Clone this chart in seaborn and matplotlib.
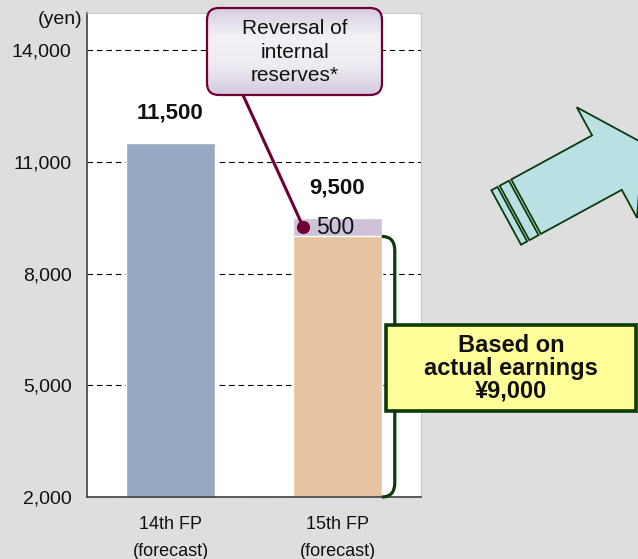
import matplotlib
matplotlib.use("Agg")
import matplotlib.pyplot as plt
import seaborn as sns
import numpy as np
import pandas as pd
from matplotlib.patches import FancyBboxPatch, Rectangle, Polygon, PathPatch
from matplotlib.path import Path
from matplotlib.colors import LinearSegmentedColormap

# Dividend per unit (yen)
periods = ["14th FP", "15th FP"]
period_notes = ["(forecast)", "(forecast)"]
base_dividend = [11500, 9000]       # based on actual earnings
reserve_reversal = [0, 500]         # reversal of internal reserves
total_dividend = [b + r for b, r in zip(base_dividend, reserve_reversal)]
y_ticks = [2000, 5000, 8000, 11000, 14000]

BLUE = "#97a9c2"
ORANGE = "#e6c4a2"
PURPLE = "#cdc2d8"
MAROON = "#6e0036"
GREEN = "#0b3a0b"
YELLOW = "#ffff99"
CYAN = "#b9e0e3"
BG = "#dedede"

sns.set_theme(style="white")
plt.rcParams["font.family"] = ["Liberation Sans", "DejaVu Sans"]

W, H = 638, 559
fig = plt.figure(figsize=(W / 100, H / 100), dpi=100, facecolor=BG)
ax = fig.add_axes([87 / W, 1 - 497 / H, (421 - 87) / W, (497 - 13) / H])
ax.set_facecolor("white")

df = pd.DataFrame({
    "period": periods,
    "total": total_dividend,
    "base": base_dividend,
})

# full height (incl. reserve reversal), then the earnings-based part on top
sns.barplot(data=df, x="period", y="total", hue="period",
            palette=[BLUE, PURPLE], width=0.53, saturation=1,
            legend=False, errorbar=None, ax=ax, zorder=2)
sns.barplot(data=df, x="period", y="base", hue="period",
            palette=[BLUE, ORANGE], width=0.53, saturation=1,
            legend=False, errorbar=None, ax=ax, zorder=2)

ax.set_xlim(-0.5, 1.5)
ax.set_ylim(2000, 15000)
ax.set_yticks(y_ticks)
ax.set_yticklabels([f"{v:,}" for v in y_ticks], fontsize=14, color="#111111")
ax.set_xticks(range(len(periods)))
ax.set_xticklabels([f"{p}\n{n}" for p, n in zip(periods, period_notes)],
                   fontsize=13, color="#111111", linespacing=1.75)
ax.set_xlabel("")
ax.set_ylabel("")
ax.tick_params(axis="y", length=0, pad=11)
ax.tick_params(axis="x", length=0, pad=14)
ax.set_xticks([-0.5, 0.5, 1.5], minor=True)
ax.tick_params(axis="x", which="minor", direction="in", length=4,
               color="#404040", width=1)

ax.yaxis.grid(True, color="black", linestyle=(0, (5, 3.5)), linewidth=0.8)
ax.set_axisbelow(True)
for side in ("left", "bottom"):
    ax.spines[side].set_color("#404040")
    ax.spines[side].set_linewidth(1.2)
for side in ("top", "right"):
    ax.spines[side].set_color("#c8c8c8")
    ax.spines[side].set_linewidth(0.8)

# total labels above bars
for i, v in enumerate(total_dividend):
    ax.annotate(f"{v:,}", (i, v), xytext=(0, 21.5), textcoords="offset points",
                ha="center", va="center", fontsize=16, fontweight="bold",
                color="#111111")

# reserve reversal segment label
rev_mid = base_dividend[1] + reserve_reversal[1] / 2
ax.text(1 - 0.13, rev_mid, f"{reserve_reversal[1]:,}", ha="left",
        va="center", fontsize=16.5, color="#111111", zorder=5)

# bracket along the earnings-based part of the 15th FP bar
bx0 = 1 + 0.265
bx1 = bx0 + 0.078
ry = 380
verts = [(bx0, base_dividend[1]), (bx1, base_dividend[1]), (bx1, base_dividend[1] - ry),
         (bx1, 2000 + ry), (bx1, 2000), (bx0, 2000)]
codes = [Path.MOVETO, Path.CURVE3, Path.CURVE3, Path.LINETO, Path.CURVE3, Path.CURVE3]
ax.add_patch(PathPatch(Path(verts, codes), fill=False, edgecolor=GREEN,
                       linewidth=2.3, clip_on=False, zorder=6))

fig.text(82 / W, 1 - 20 / H, "(yen)", ha="right", va="center",
         fontsize=14, color="#111111")

# overlay in pixel coordinates for callouts and the arrow
ov = fig.add_axes([0, 0, 1, 1])
ov.set_zorder(5)
ov.patch.set_visible(False)
ov.axis("off")

# connector from callout box to the reserve segment
dot_disp = ax.transData.transform((1 - 0.265 + 0.06, rev_mid))
dot = (dot_disp[0], H - dot_disp[1])
ov.plot([243, dot[0]], [95, dot[1]], color=MAROON, lw=2.2,
        solid_capstyle="round", zorder=3)
ov.plot([dot[0]], [dot[1]], "o", color=MAROON, ms=8.5, zorder=4)

# rounded callout with vertical gradient
bx, by, bw, bh, r = 207, 8, 175, 87, 12
box = FancyBboxPatch((bx + r, by + r), bw - 2 * r, bh - 2 * r,
                     boxstyle=f"round,pad={r}", facecolor="none",
                     edgecolor=MAROON, linewidth=1.6, zorder=6)
grad_cmap = LinearSegmentedColormap.from_list(
    "callout", ["#d6cddf", "#f3f1f6", "#eeebf2", "#d3c9dc"])
grad = np.linspace(0, 1, 256).reshape(-1, 1)
im = ov.imshow(grad, cmap=grad_cmap, extent=[bx, bx + bw, by + bh, by],
               aspect="auto", zorder=5)
ov.add_patch(box)
im.set_clip_path(box)
ov.text(bx + bw / 2, by + bh / 2 + 0.5, "Reversal of\ninternal\nreserves*",
        ha="center", va="center", fontsize=15, linespacing=1.3,
        color="#111111", zorder=7)

# yellow note box
ov.add_patch(Rectangle((386, 325), 250, 86, facecolor=YELLOW,
                       edgecolor=GREEN, linewidth=2.6, zorder=6))
ov.text(511, 368, "Based on\nactual earnings\n¥9,000", ha="center",
        va="center", fontsize=17, fontweight="bold", linespacing=1.0,
        color="#111111", zorder=7)

# striped block arrow pointing up-right
T = np.array([506.2, 217.5])
u = np.array([0.877, -0.478])
u = u / np.linalg.norm(u)
nv = np.array([-u[1], u[0]])
if nv[1] < 0:
    nv = -nv


def pts(st):
    return [T + s * u + t * nv for s, t in st]


for s0, s1 in [(0, 7), (9.5, 20)]:
    ov.add_patch(Polygon(pts([(s0, -31), (s1, -31), (s1, 31), (s0, 31)]),
                         closed=True, facecolor=CYAN, edgecolor=GREEN,
                         linewidth=1.3, zorder=4))
ov.add_patch(Polygon(pts([(22.6, -31), (114.7, -31), (114.7, -63), (155.6, 0),
                          (114.7, 63), (114.7, 31), (22.6, 31)]),
                     closed=True, facecolor=CYAN, edgecolor=GREEN,
                     linewidth=1.3, zorder=4))

ov.set_xlim(0, W)
ov.set_ylim(H, 0)

fig.savefig("out.png", dpi=100, facecolor=BG)
